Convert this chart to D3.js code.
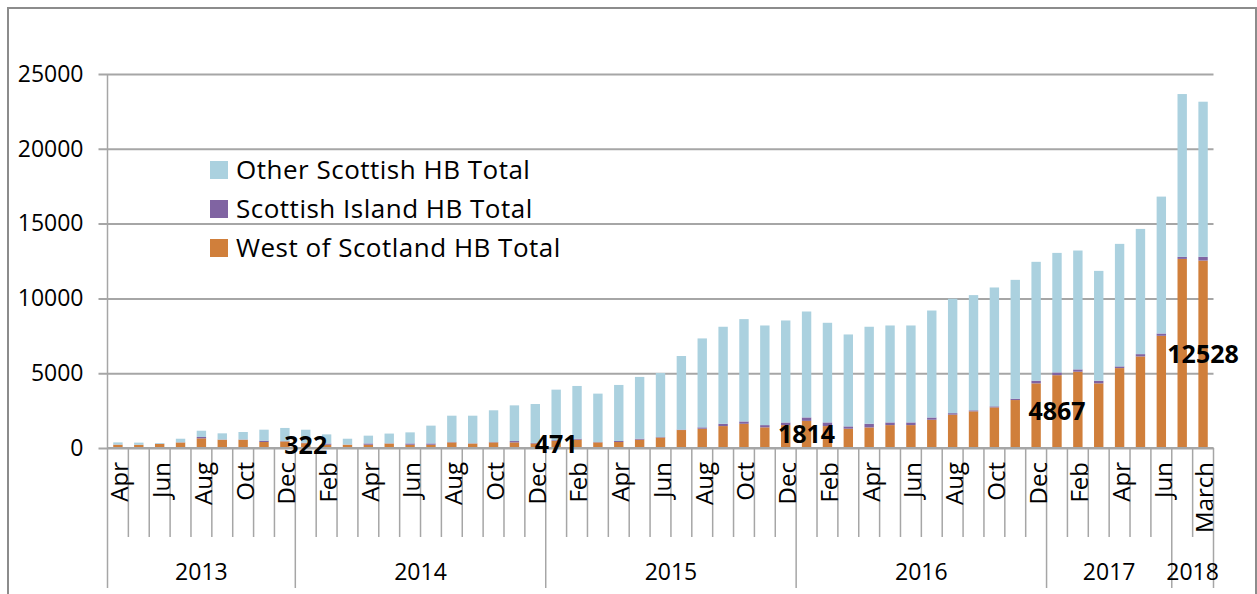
<!DOCTYPE html>
<html>
<head>
<meta charset="utf-8">
<script src="https://cdn.jsdelivr.net/npm/d3@7"></script>
<style>
  body { margin: 0; background: #fff; }
  svg { display: block; font-family: 'Open Sans', sans-serif; }
</style>
</head>
<body>
<svg id="chart" width="1257" height="594"></svg>
<script>
/* global d3 */

// ---- data ----
const months = [
  'Apr', 'May', 'Jun', 'Jul', 'Aug', 'Sep', 'Oct', 'Nov', 'Dec',
  'Jan', 'Feb', 'Mar', 'Apr', 'May', 'Jun', 'Jul', 'Aug', 'Sep', 'Oct', 'Nov', 'Dec',
  'Jan', 'Feb', 'Mar', 'Apr', 'May', 'Jun', 'Jul', 'Aug', 'Sep', 'Oct', 'Nov', 'Dec',
  'Jan', 'Feb', 'Mar', 'Apr', 'May', 'Jun', 'Jul', 'Aug', 'Sep', 'Oct', 'Nov', 'Dec',
  'Jan', 'Feb', 'Mar', 'Apr', 'May', 'Jun',
  'Feb', 'March'
]
const years = ['2013', '2014', '2015', '2016', '2017', '2018']
const yearCounts = [9, 12, 12, 12, 6, 2]

const westTotal = [
  220, 210, 270, 370, 645, 555, 555, 400, 440,
  322, 220, 220, 220, 300, 220, 220, 375, 300, 375, 375, 300,
  471, 557, 375, 400, 557, 700, 1200, 1290, 1465, 1620, 1380, 1530,
  1814, 1465, 1290, 1375, 1530, 1530, 1890, 2230, 2450, 2715, 3205, 4320,
  4867, 5100, 4320, 5340, 6120, 7500,
  12640, 12528
]
const islandTotal = [
  10, 10, 10, 10, 90, 15, 15, 90, 20,
  30, 80, 10, 85, 15, 85, 85, 20, 15, 20, 90, 40,
  50, 65, 20, 70, 65, 30, 30, 90, 155, 155, 150, 175,
  230, 245, 155, 245, 180, 180, 150, 100, 70, 70, 90, 180,
  185, 155, 175, 115, 155, 155,
  135, 250
]
const otherTotal = [
  145, 140, 50, 240, 420, 410, 500, 735, 880,
  870, 610, 390, 520, 650, 740, 1190, 1765, 1845, 2125, 2385, 2600,
  3380, 3525, 3240, 3745, 4130, 4285, 4920, 5945, 6485, 6840, 6660, 6820,
  7080, 6660, 6145, 6485, 6480, 6480, 7150, 7650, 7700, 7945, 7945, 7945,
  7990, 7945, 7345, 8190, 8370, 9150,
  10885, 10370
]
const labelIndex = [9, 21, 33, 45, 52]
const yTicks = [0, 5000, 10000, 15000, 20000, 25000]

const seriesKeys = ['west', 'island', 'other']
const seriesNames = {
  other: 'Other Scottish HB Total',
  island: 'Scottish Island HB Total',
  west: 'West of Scotland HB Total'
}
const colors = { west: '#d07f3b', island: '#8064a2', other: '#abd1df' }

// ---- layout ----
const svg = d3.select('#chart')
const margins = { top: 74, left: 107.5, right: 1213.5, bottom: 448 }
const gridColor = '#a6a6a6'

const rows = months.map((m, i) => ({
  i, month: m, west: westTotal[i], island: islandTotal[i], other: otherTotal[i]
}))

const x = d3.scaleBand()
  .domain(rows.map(d => d.i))
  .range([margins.left, margins.right])
  .paddingInner(0.55)
  .paddingOuter(0.275)
const step = x.step()

const y = d3.scaleLinear().domain([0, 25000]).range([margins.bottom, margins.top])

// outer frame
svg.append('rect')
  .attr('x', 8).attr('y', 8)
  .attr('width', 1248).attr('height', 600)
  .attr('fill', 'none')
  .attr('stroke', '#8c8c8c')
  .attr('stroke-width', 2)

// gridlines + y labels
const yAxis = d3.axisLeft(y)
  .tickValues(yTicks)
  .tickSize(-(margins.right - margins.left))
  .tickSizeOuter(0)
  .tickPadding(24)
  .tickFormat(d3.format('d'))
svg.append('g')
  .attr('transform', `translate(${margins.left},0)`)
  .call(yAxis)
  .call(g => g.select('.domain').remove())
  .call(g => g.selectAll('line')
    .attr('x1', -9)
    .attr('stroke', gridColor).attr('stroke-width', 2))
  .call(g => g.selectAll('text')
    .attr('font-size', 23).attr('fill', '#000')
    .attr('font-family', 'Open Sans, sans-serif'))

// stacked bars
const stack = d3.stack().keys(seriesKeys)(rows)
svg.append('g').selectAll('g')
  .data(stack)
  .join('g')
  .attr('fill', d => colors[d.key])
  .selectAll('rect')
  .data(d => d)
  .join('rect')
  .attr('x', d => x(d.data.i))
  .attr('width', x.bandwidth())
  .attr('y', d => y(d[1]))
  .attr('height', d => y(d[0]) - y(d[1]))

// x axis line and left axis
svg.append('line')
  .attr('x1', margins.left).attr('x2', margins.right)
  .attr('y1', margins.bottom).attr('y2', margins.bottom)
  .attr('stroke', gridColor).attr('stroke-width', 2)
svg.append('line')
  .attr('x1', margins.left).attr('x2', margins.left)
  .attr('y1', margins.top).attr('y2', 588)
  .attr('stroke', gridColor).attr('stroke-width', 1.5)

// month tick lines
const boundaries = d3.range(1, months.length + 1)
const yearEnds = d3.cumsum(yearCounts)
svg.append('g').selectAll('line')
  .data(boundaries)
  .join('line')
  .attr('x1', d => margins.left + step * d)
  .attr('x2', d => margins.left + step * d)
  .attr('y1', margins.bottom)
  .attr('y2', d => yearEnds.includes(d) ? 588 : 537)
  .attr('stroke', gridColor).attr('stroke-width', 1.5)

// month labels (every other one)
svg.append('g').selectAll('text')
  .data(rows.filter(d => d.i % 2 === 0))
  .join('text')
  .attr('transform', d => `translate(${x(d.i) + x.bandwidth() / 2 + 2},462) rotate(-90)`)
  .attr('text-anchor', 'end')
  .attr('dy', '0.35em')
  .attr('font-size', 24)
  .text(d => d.month)

// year labels
const yearStarts = [0, ...yearEnds.slice(0, -1)]
svg.append('g').selectAll('text')
  .data(years)
  .join('text')
  .attr('x', (d, k) => margins.left + step * (yearStarts[k] + yearCounts[k] / 2))
  .attr('y', 572)
  .attr('dy', '0.35em')
  .attr('text-anchor', 'middle')
  .attr('font-size', 23)
  .text(d => d)

// data labels on the west segment
svg.append('g').selectAll('text')
  .data(labelIndex)
  .join('text')
  .attr('x', d => x(d) + x.bandwidth() / 2)
  .attr('y', d => y(westTotal[d] / 2))
  .attr('dy', '0.35em')
  .attr('text-anchor', 'middle')
  .attr('font-size', 25)
  .attr('font-weight', 'bold')
  .text(d => westTotal[d])

// legend
const legendKeys = ['other', 'island', 'west']
const legend = svg.append('g').selectAll('g')
  .data(legendKeys)
  .join('g')
  .attr('transform', (d, k) => `translate(210,${170 + k * 39})`)
legend.append('rect')
  .attr('x', 0).attr('y', -9)
  .attr('width', 18).attr('height', 18)
  .attr('fill', d => colors[d])
legend.append('text')
  .attr('x', 26)
  .attr('dy', '0.35em')
  .attr('font-size', 26)
  .attr('letter-spacing', 0.5)
  .text(d => seriesNames[d])
</script>
</body>
</html>
